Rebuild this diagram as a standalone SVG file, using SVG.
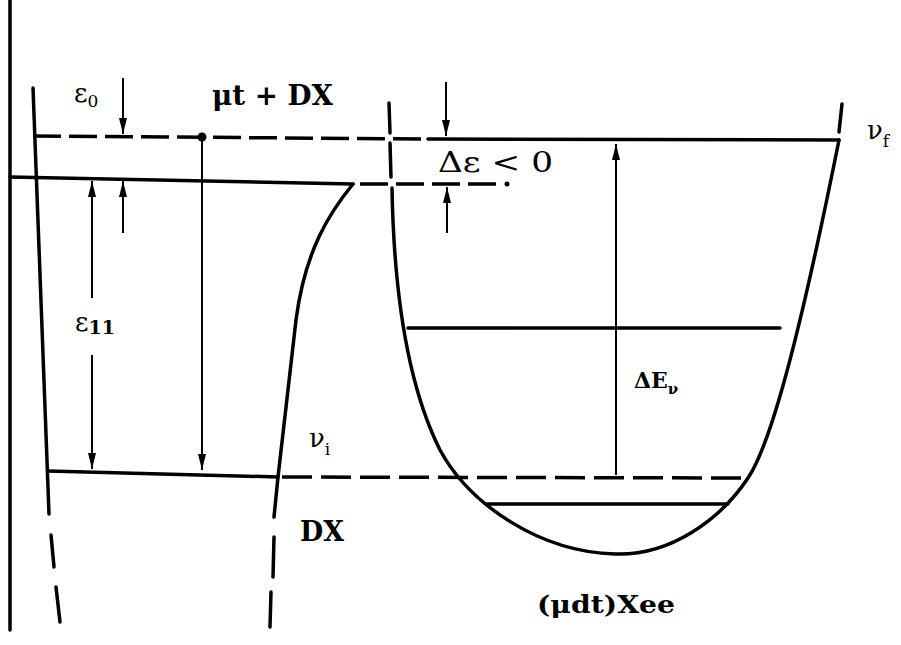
<svg xmlns="http://www.w3.org/2000/svg" width="901" height="645" viewBox="0 0 901 645">
<style>
.l{fill:none;stroke:#000;stroke-width:3.5;stroke-linecap:round}
.t{fill:none;stroke:#000;stroke-width:2}
.d{stroke-dasharray:28 8;stroke-linecap:butt}
.sf{font-family:"DejaVu Serif","Liberation Serif",serif;fill:#000}
.b{font-weight:bold}
</style>
<defs>
<marker id="ah" viewBox="0 0 16 8" refX="16" refY="4" markerWidth="16" markerHeight="8" markerUnits="userSpaceOnUse" orient="auto">
<path d="M0,0 L16,4 L0,8 z" fill="#000"/>
</marker>
</defs>
<rect width="901" height="645" fill="#fff"/>
<g id="frame"><line class="l" x1="10" y1="0" x2="10" y2="630"/></g>
<g id="left-well">
<line class="l" x1="33" y1="88" x2="49" y2="514"/>
<line class="l" x1="51" y1="535" x2="54" y2="567"/>
<line class="l" x1="56" y1="587" x2="60" y2="622"/>
</g>
<g id="dx-well">
<path class="l" d="M353,184 C330,212 305,250 296,320 L278,477 L274,517"/>
<line class="l" x1="274" y1="537" x2="273" y2="577"/>
<line class="l" x1="271" y1="592" x2="270" y2="627"/>
</g>
<g id="xee-well">
<line class="l" x1="389" y1="103" x2="390" y2="133"/>
<line class="l" x1="390" y1="143" x2="391" y2="177"/>
<path class="l" d="M392,188 C394,300 410,390 440,450 C470,505 540,552 615,554 C670,556 720,520 748,478 C766,451 792,375 839,140"/>
<line class="l" x1="842" y1="104" x2="839" y2="132"/>
</g>
<g id="levels">
<path class="l d" d="M33,136 L428,139"/>
<line class="l" x1="428" y1="139" x2="839" y2="140"/>
<line class="l" x1="10" y1="177" x2="353" y2="184"/>
<path class="l d" d="M360,184 L500,184"/>
<circle cx="507" cy="184" r="2.5"/>
<line class="l" x1="48" y1="471" x2="278" y2="477"/>
<path class="l" style="stroke-dasharray:30 9;stroke-linecap:butt" d="M282,477 L748,478"/>
<line class="l" x1="408" y1="328" x2="780" y2="328"/>
<line class="l" x1="487" y1="504" x2="728" y2="504"/>
<circle cx="202" cy="137" r="4.5"/>
</g>
<g id="connectors">
<line class="t" x1="123" y1="78" x2="123" y2="134" marker-end="url(#ah)"/>
<line class="t" x1="123" y1="233" x2="123" y2="181" marker-end="url(#ah)"/>
<line class="t" x1="92" y1="298" x2="92" y2="181" marker-end="url(#ah)"/>
<line class="t" x1="92" y1="355" x2="92" y2="469" marker-end="url(#ah)"/>
<line class="t" x1="202" y1="137" x2="202" y2="470" marker-end="url(#ah)"/>
<line class="t" x1="446" y1="82" x2="446" y2="136" marker-end="url(#ah)"/>
<line class="t" x1="447" y1="233" x2="447" y2="187" marker-end="url(#ah)"/>
<line class="t" x1="616" y1="475" x2="616" y2="144" marker-end="url(#ah)"/>
</g>
<g id="labels">
<text class="sf" x="74" y="102" font-size="26">ε<tspan font-size="17" dy="5">0</tspan></text>
<text class="sf b" x="212" y="105" font-size="27" textLength="121" lengthAdjust="spacingAndGlyphs">μt + DX</text>
<text class="sf" x="75" y="331" font-size="26">ε<tspan class="b" font-size="19" dy="3">11</tspan></text>
<text class="sf" x="438" y="172" font-size="27" textLength="115" lengthAdjust="spacingAndGlyphs">Δε &lt; 0</text>
<text class="sf" x="867" y="139" font-size="26">ν<tspan font-size="17" dy="8">f</tspan></text>
<text class="sf" x="309" y="447" font-size="26">ν<tspan font-size="17" dy="8">i</tspan></text>
<text class="sf b" x="300" y="541" font-size="27" textLength="44" lengthAdjust="spacingAndGlyphs">DX</text>
<text class="sf b" x="634" y="388" font-size="22">ΔE<tspan font-size="15" dy="6">ν</tspan></text>
<text class="sf b" x="537" y="613" font-size="24" textLength="138" lengthAdjust="spacingAndGlyphs">(μdt)Xee</text>
</g>
</svg>
